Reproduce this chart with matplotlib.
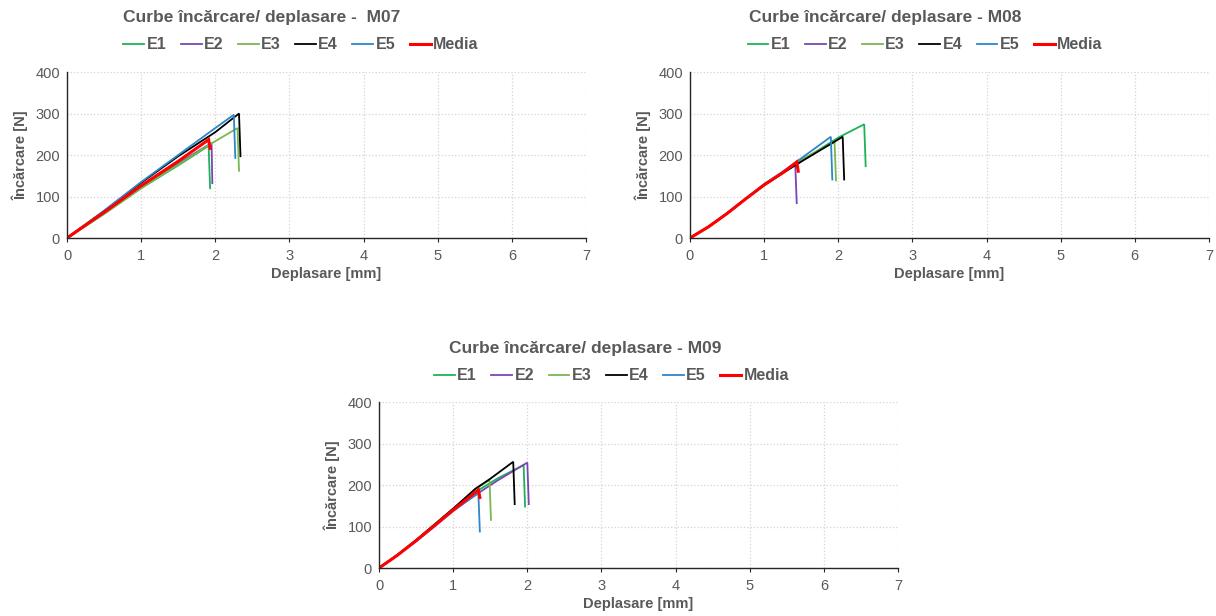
import matplotlib.pyplot as plt

plt.rcParams['font.family'] = ['Liberation Sans', 'DejaVu Sans']

# data: displacement [mm] / load [N]
series = ['E1', 'E2', 'E3', 'E4', 'E5', 'Media']

m07_x = {'E1': [0, 0.5, 1.0, 1.5, 1.91, 1.93],
         'E2': [0, 0.5, 1.0, 1.5, 1.95, 1.96],
         'E3': [0, 0.5, 1.0, 1.5, 1.95, 2.30, 2.32],
         'E4': [0, 0.5, 1.0, 1.5, 2.0, 2.32, 2.34],
         'E5': [0, 0.5, 1.0, 1.5, 2.0, 2.25, 2.27],
         'Media': [0, 0.5, 1.0, 1.5, 1.91, 1.93]}
m07_y = {'E1': [0, 58, 120, 175, 222, 120],
         'E2': [0, 60, 123, 180, 229, 132],
         'E3': [0, 58, 120, 177, 228, 265, 162],
         'E4': [0, 65, 133, 197, 255, 300, 197],
         'E5': [0, 66, 135, 200, 265, 297, 193],
         'Media': [0, 62, 126, 185, 237, 216]}

m08_x = {'E1': [0, 0.25, 0.5, 0.75, 1.0, 1.25, 1.5, 2.0, 2.35, 2.37],
         'E2': [0, 0.25, 0.5, 0.75, 1.0, 1.25, 1.42, 1.44],
         'E3': [0, 0.25, 0.5, 0.75, 1.0, 1.25, 1.5, 1.95, 1.97],
         'E4': [0, 0.25, 0.5, 0.75, 1.0, 1.25, 1.5, 2.06, 2.08],
         'E5': [0, 0.25, 0.5, 0.75, 1.0, 1.25, 1.5, 1.90, 1.92],
         'Media': [0, 0.25, 0.5, 0.75, 1.0, 1.25, 1.44, 1.46]}
m08_y = {'E1': [0, 27, 59, 94, 128, 157, 186, 242, 274, 173],
         'E2': [0, 27, 59, 94, 128, 157, 179, 84],
         'E3': [0, 27, 59, 94, 128, 158, 189, 231, 139],
         'E4': [0, 27, 59, 94, 127, 156, 184, 244, 141],
         'E5': [0, 27, 60, 95, 130, 160, 192, 244, 141],
         'Media': [0, 27, 59, 94, 128, 157, 183, 161]}

m09_x = {'E1': [0, 0.25, 0.5, 0.75, 1.0, 1.3, 1.6, 1.95, 1.97],
         'E2': [0, 0.25, 0.5, 0.75, 1.0, 1.3, 1.6, 2.0, 2.02],
         'E3': [0, 0.25, 0.5, 0.75, 1.0, 1.3, 1.49, 1.51],
         'E4': [0, 0.25, 0.5, 0.75, 1.0, 1.3, 1.5, 1.81, 1.83],
         'E5': [0, 0.25, 0.5, 0.75, 1.0, 1.34, 1.36],
         'Media': [0, 0.25, 0.5, 0.75, 1.0, 1.34, 1.36]}
m09_y = {'E1': [0, 32, 67, 105, 143, 183, 216, 248, 148],
         'E2': [0, 31, 64, 100, 137, 176, 211, 254, 154],
         'E3': [0, 32, 67, 105, 143, 190, 212, 116],
         'E4': [0, 32, 67, 105, 143, 191, 215, 256, 154],
         'E5': [0, 31, 66, 103, 140, 180, 88],
         'Media': [0, 31, 66, 103, 140, 188, 170]}

titles = ['Curbe încărcare/ deplasare -  M07',
          'Curbe încărcare/ deplasare - M08',
          'Curbe încărcare/ deplasare - M09']

colors = {'E1': '#1fb15a', 'E2': '#7b45b5', 'E3': '#78b850',
          'E4': '#000000', 'E5': '#2e86c9', 'Media': '#ff0000'}
widths = {'E1': 1.3, 'E2': 1.3, 'E3': 1.3, 'E4': 1.3, 'E5': 1.3, 'Media': 2.2}
grey = '#595959'

fig = plt.figure(figsize=(12.16, 6.16), dpi=100)

# [axes rect, title pos, legend pos]
layout = [
    ([0.0551, 0.6136, 0.4268, 0.2695], (0.2155, 0.972), (0.2475, 0.927)),
    ([0.5674, 0.6136, 0.4268, 0.2695], (0.7278, 0.972), (0.7607, 0.927)),
    ([0.3117, 0.0779, 0.4268, 0.2695], (0.481, 0.435), (0.503, 0.390)),
]
data = [(m07_x, m07_y), (m08_x, m08_y), (m09_x, m09_y)]

for (rect, tpos, lpos), (xs, ys), title in zip(layout, data, titles):
    ax = fig.add_axes(rect)
    for s in series:
        ax.plot(xs[s], ys[s], color=colors[s], lw=widths[s], label=s,
                solid_joinstyle='miter')
    ax.set_xlim(0, 7)
    ax.set_ylim(0, 400)
    ax.set_xticks(range(0, 8))
    ax.set_yticks(range(0, 401, 100))
    ax.grid(True, ls=':', color='#d4d4d4', lw=0.9)
    ax.set_axisbelow(True)
    for sp in ['top', 'right']:
        ax.spines[sp].set_visible(False)
    for sp in ['left', 'bottom']:
        ax.spines[sp].set_color('#262626')
        ax.spines[sp].set_linewidth(1.0)
    ax.tick_params(axis='both', colors=grey, labelsize=10.5, length=0, pad=5)
    ax.tick_params(axis='x', length=3, color='#262626')
    ax.set_xlabel('Deplasare [mm]', color=grey, fontsize=10.5, fontweight='bold', labelpad=3)
    ax.set_ylabel('Încărcare [N]', color=grey, fontsize=10.5, fontweight='bold', labelpad=5)
    fig.text(tpos[0], tpos[1], title, ha='center', va='center', fontsize=12.5,
             fontweight='bold', color=grey)
    h, l = ax.get_legend_handles_labels()
    leg = fig.legend(h, l, loc='center', bbox_to_anchor=lpos, ncol=6, frameon=False,
                     handlelength=1.3, handletextpad=0.15, columnspacing=0.9,
                     prop={'weight': 'bold', 'size': 11.5})
    for t in leg.get_texts():
        t.set_color(grey)

plt.savefig('out.png', dpi=100)
